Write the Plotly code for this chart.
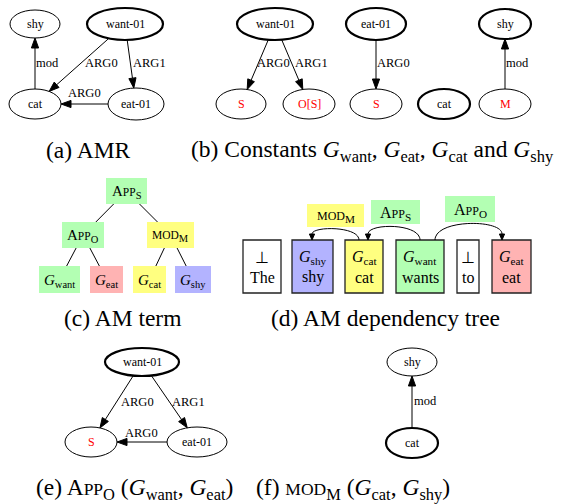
import math
import plotly.graph_objects as go

W, H = 563, 504
FONT = "Liberation Serif, Times New Roman, Times, serif"
RED = "#ff0000"
GREEN, PINK, YELLOW, BLUE, WHITE = "#b3ffb3", "#ffb3b3", "#ffff80", "#b3b3ff", "#ffffff"

# ---------------- data ----------------
# (a) AMR graph
amr_ids = ["want", "eat", "cat", "shy"]
amr_labels = ["want-01", "eat-01", "cat", "shy"]
amr_roots = ["want"]
amr_edges = [("want", "cat", "ARG0"), ("want", "eat", "ARG1"), ("eat", "cat", "ARG0"), ("cat", "shy", "mod")]

# (b) constants
const_ids = ["w", "w_s", "w_o", "e", "e_s", "c", "s", "s_m"]
const_labels = ["want-01", "S", "O[S]", "eat-01", "S", "cat", "shy", "M"]
const_roots = ["w", "e", "c", "s"]
const_sources = ["w_s", "w_o", "e_s", "s_m"]
const_edges = [("w", "w_s", "ARG0"), ("w", "w_o", "ARG1"), ("e", "e_s", "ARG0"), ("s_m", "s", "mod")]

# (c) AM term
term_ids = ["appS", "appO", "modM", "gwant", "geat", "gcat", "gshy"]
term_edges = [("appS", "appO"), ("appS", "modM"), ("appO", "gwant"), ("appO", "geat"), ("modM", "gcat"), ("modM", "gshy")]

# (d) AM dependency tree
tokens = ["The", "shy", "cat", "wants", "to", "eat"]
token_consts = ["⊥", "shy", "cat", "want", "⊥", "eat"]
dep_edges = [(2, 1, "mod", "M"), (3, 2, "App", "S"), (3, 5, "App", "O")]

# (e) App_O(G_want, G_eat)
appo_ids = ["w", "s", "e"]
appo_labels = ["want-01", "S", "eat-01"]
appo_roots = ["w"]
appo_sources = ["s"]
appo_edges = [("w", "s", "ARG0"), ("w", "e", "ARG1"), ("e", "s", "ARG0")]

# (f) Mod_M(G_cat, G_shy)
modm_ids = ["shy", "cat"]
modm_labels = ["shy", "cat"]
modm_roots = ["cat"]
modm_edges = [("cat", "shy", "mod")]

# ---------------- layout (positions) ----------------
amr_pos = {"want": (125, 24, 38, 16), "eat": (136, 104, 28, 16), "cat": (35, 104, 26, 15), "shy": (35, 24, 25, 14)}
amr_lab = [(101, 63), (149, 63), (84, 93), (47, 63)]
const_pos = {"w": (275, 24, 38, 16), "w_s": (241, 104, 25, 15), "w_o": (309, 104, 26, 15),
             "e": (376, 24, 30, 16), "e_s": (376, 104, 26, 15), "c": (444, 104, 26, 15),
             "s": (505, 24, 26, 15), "s_m": (505, 104, 26, 15)}
const_lab = [(273, 63), (311, 63), (393, 63), (517, 63)]
term_box = {"appS": (106, 147, 178, 204), "appO": (62, 104, 222, 248), "modM": (147, 194, 222, 248),
            "gwant": (39, 80, 266, 293), "geat": (90, 123, 266, 293), "gcat": (133, 166, 266, 293),
            "gshy": (175, 211, 266, 293)}
tok_box = [(243, 281), (292, 333), (345, 383), (396, 444), (457, 479), (492, 531)]
tok_y = (240, 293)
dep_lab_box = [(307, 364, 204, 227), (371, 420, 200, 224), (445, 495, 196, 222)]
dep_arc = [(359, 312, 14), (420, 368, 17), (435, 502, 21)]
appo_pos = {"w": (142, 362, 37, 14), "s": (91, 442, 26, 15), "e": (197, 442, 30, 15)}
appo_lab = [(137, 402), (188, 402), (141, 433)]
modm_pos = {"shy": (412, 362, 25, 14), "cat": (412, 443, 26, 15)}
modm_lab = [(425, 401)]

shapes, annots = [], []


def text(x, y, s, size, color="#000000", **kw):
    annots.append(dict(x=x, y=y, xref="x", yref="y", text=s, showarrow=False,
                       font=dict(family=FONT, size=size, color=color), **kw))


def ellipse(cx, cy, rx, ry, bold):
    shapes.append(dict(type="circle", xref="x", yref="y", x0=cx - rx, x1=cx + rx, y0=cy - ry, y1=cy + ry,
                       line=dict(color="#000000", width=2.2 if bold else 1), fillcolor="rgba(0,0,0,0)"))


def boundary(p, q):
    cx, cy, rx, ry = p
    dx, dy = q[0] - cx, q[1] - cy
    n = math.hypot(dx, dy)
    dx, dy = dx / n, dy / n
    t = 1 / math.sqrt((dx / rx) ** 2 + (dy / ry) ** 2)
    return cx + t * dx, cy + t * dy


def arrowhead(tip, ux, uy, al, aw):
    bx, by = tip[0] - al * ux, tip[1] - al * uy
    px, py = -uy * aw, ux * aw
    shapes.append(dict(type="path", xref="x", yref="y",
                       path=f"M {tip[0]},{tip[1]} L {bx + px},{by + py} L {bx - px},{by - py} Z",
                       fillcolor="#000000", line=dict(color="#000000", width=1)))


def arrow(p0, p1, al=10, aw=3.6):
    dx, dy = p1[0] - p0[0], p1[1] - p0[1]
    n = math.hypot(dx, dy)
    ux, uy = dx / n, dy / n
    shapes.append(dict(type="line", xref="x", yref="y", x0=p0[0], y0=p0[1],
                       x1=p1[0] - al * ux, y1=p1[1] - al * uy, line=dict(color="#000000", width=1)))
    arrowhead(p1, ux, uy, al, aw)


def graph(ids, labels, roots, sources, edges, pos, labpos):
    for i, lab in zip(ids, labels):
        cx, cy, rx, ry = pos[i]
        ellipse(cx, cy, rx, ry, i in roots)
        text(cx, cy, lab, 12, RED if i in sources else "#000000")
    for (a, b, lab), lp in zip(edges, labpos):
        pa, pb = pos[a], pos[b]
        arrow(boundary(pa, pb), boundary(pb, pa))
        text(lp[0], lp[1], lab, 12.5)


def sc(word, small):
    """fake small caps: an initial capital stays full size"""
    if word[0].isupper():
        return word[0] + f"<span style='font-size:{small}px'>{word[1:].upper()}</span>"
    return f"<span style='font-size:{small}px'>{word.upper()}</span>"


def G(sub):
    return f"<i>G</i><sub>{sub}</sub>"


CAP = 23.5
# (a)
graph(amr_ids, amr_labels, amr_roots, [], amr_edges, amr_pos, amr_lab)
text(88, 150, "(a) AMR", CAP)
# (b)
graph(const_ids, const_labels, const_roots, const_sources, const_edges, const_pos, const_lab)
text(372, 151, f"(b) Constants {G('want')}, {G('eat')}, {G('cat')} and {G('shy')}", CAP)

# (c)
term_text = {"appS": sc("App", 11.5) + "<sub>S</sub>", "appO": sc("App", 11.5) + "<sub>O</sub>",
             "modM": sc("mod", 11.5) + "<sub>M</sub>", "gwant": G("want"), "geat": G("eat"),
             "gcat": G("cat"), "gshy": G("shy")}
term_col = {"appS": GREEN, "appO": GREEN, "modM": YELLOW, "gwant": GREEN, "geat": PINK, "gcat": YELLOW, "gshy": BLUE}
for a, b in term_edges:
    x0, x1, y0, y1 = term_box[a]
    u0, u1, v0, v1 = term_box[b]
    pc = ((x0 + x1) / 2, (y0 + y1) / 2)
    cc = ((u0 + u1) / 2, (v0 + v1) / 2)
    dx, dy = cc[0] - pc[0], cc[1] - pc[1]
    s0 = (y1 - pc[1]) / dy
    s1 = (cc[1] - v0) / dy
    shapes.append(dict(type="line", xref="x", yref="y", x0=pc[0] + s0 * dx, y0=y1,
                       x1=cc[0] - s1 * dx, y1=v0, line=dict(color="#000000", width=1)))
for k in term_ids:
    x0, x1, y0, y1 = term_box[k]
    shapes.append(dict(type="rect", xref="x", yref="y", x0=x0, x1=x1, y0=y0, y1=y1,
                       fillcolor=term_col[k], line=dict(width=0), layer="below"))
    text((x0 + x1) / 2, (y0 + y1) / 2 + 1, term_text[k], 15)
text(122, 318, "(c) AM term", CAP)

# (d)
tok_col = [WHITE, BLUE, YELLOW, GREEN, WHITE, PINK]
for (x0, x1), tok, cst, col in zip(tok_box, tokens, token_consts, tok_col):
    shapes.append(dict(type="rect", xref="x", yref="y", x0=x0, x1=x1, y0=tok_y[0], y1=tok_y[1],
                       fillcolor=col, line=dict(color="#222222", width=1.3), layer="below"))
    top = cst if cst == "⊥" else G(cst)
    text((x0 + x1) / 2, 257, top, 16)
    text((x0 + x1) / 2, 277, tok, 16)
for (h, d, op, src), (bx0, bx1, by0, by1), (xs, xe, rise) in zip(dep_edges, dep_lab_box, dep_arc):
    y0 = tok_y[0]
    al = 6
    shapes.append(dict(type="path", xref="x", yref="y",
                       path=f"M {xs},{y0} C {xs},{y0 - rise} {xe},{y0 - rise} {xe},{y0 - al}",
                       line=dict(color="#000000", width=1)))
    arrowhead((xe, y0), 0, 1, al, 2.6)
    shapes.append(dict(type="rect", xref="x", yref="y", x0=bx0, x1=bx1, y0=by0, y1=by1,
                       fillcolor=GREEN if op == "App" else YELLOW, line=dict(width=0), layer="below"))
    text((bx0 + bx1) / 2, (by0 + by1) / 2 + 1, sc(op, 12) + f"<sub>{src}</sub>", 16)
text(385, 318, "(d) AM dependency tree", CAP)

# (e)
graph(appo_ids, appo_labels, appo_roots, appo_sources, appo_edges, appo_pos, appo_lab)
text(134, 489, "(e) " + sc("App", 17.5) + f"<sub>O</sub> ({G('want')}, {G('eat')})", CAP)
# (f)
graph(modm_ids, modm_labels, modm_roots, [], modm_edges, modm_pos, modm_lab)
text(353, 489, "(f) " + sc("mod", 17.5) + f"<sub>M</sub> ({G('cat')}, {G('shy')})", CAP)

fig = go.Figure()
fig.update_layout(width=W, height=H, autosize=False, margin=dict(l=0, r=0, t=0, b=0),
                  paper_bgcolor="white", plot_bgcolor="white", showlegend=False,
                  shapes=shapes, annotations=annots)
fig.update_xaxes(range=[0, W], visible=False, fixedrange=True)
fig.update_yaxes(range=[H, 0], visible=False, fixedrange=True)
fig.write_html("out.html", config={"displayModeBar": False},
               post_script="document.body.style.margin='0px';document.body.style.overflow='hidden';")
